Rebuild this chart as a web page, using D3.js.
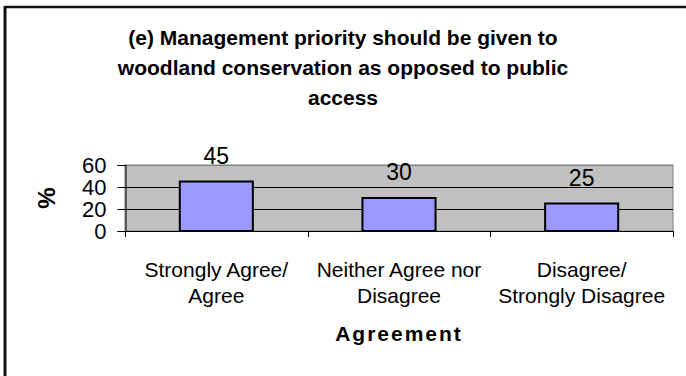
<!DOCTYPE html>
<html>
<head>
<meta charset="utf-8">
<script src="https://cdn.jsdelivr.net/npm/d3@7"></script>
<style>
  html, body { margin: 0; padding: 0; background: #fff; }
  svg { display: block; font-family: Arial, "Liberation Sans", sans-serif; }
</style>
</head>
<body>
<svg id="chart" width="686" height="376"></svg>
<script>
// Survey responses, percent of respondents
const categories = [
  ["Strongly Agree/", "Agree"],
  ["Neither Agree nor", "Disagree"],
  ["Disagree/", "Strongly Disagree"]
];
const values = [45, 30, 25];
const yTicks = [0, 20, 40, 60];
const titleLines = [
  "(e) Management priority should be given to",
  "woodland conservation as opposed to public",
  "access"
];
const xTitle = "Agreement";
const yTitle = "%";

const svg = d3.select("#chart");
const W = 686, H = 376;
const plot = { left: 125, right: 673, top: 165, bottom: 231 };
const FONT = "Arial, 'Liberation Sans', sans-serif";

// chart frame (top and left edges visible)
svg.append("rect").attr("x", 0).attr("y", 0).attr("width", W).attr("height", H).attr("fill", "#fff");
svg.append("line").attr("x1", 5).attr("x2", W).attr("y1", 7).attr("y2", 7)
  .attr("stroke", "#111").attr("stroke-width", 2.5);
svg.append("line").attr("x1", 5).attr("x2", 5).attr("y1", 6).attr("y2", H)
  .attr("stroke", "#111").attr("stroke-width", 3);

// title
svg.append("text")
  .attr("text-anchor", "middle")
  .attr("font-weight", "bold")
  .attr("font-size", 21)
  .attr("fill", "#000")
  .selectAll("tspan").data(titleLines).join("tspan")
  .attr("x", 343)
  .attr("y", (d, i) => 45 + i * 30)
  .text(d => d);

const x = d3.scaleBand()
  .domain(d3.range(categories.length))
  .range([plot.left, plot.right])
  .paddingInner(0.6).paddingOuter(0.3);
const y = d3.scaleLinear().domain([0, 60]).range([plot.bottom, plot.top]);

// plot area background
svg.append("rect")
  .attr("x", plot.left).attr("y", plot.top)
  .attr("width", plot.right - plot.left).attr("height", plot.bottom - plot.top)
  .attr("fill", "#c0c0c0")
  .attr("stroke", "#808080").attr("stroke-width", 1);

// gridlines
svg.append("g").selectAll("line").data(yTicks.filter(t => t > 0)).join("line")
  .attr("x1", plot.left).attr("x2", plot.right)
  .attr("y1", d => Math.round(y(d)) + 0.5).attr("y2", d => Math.round(y(d)) + 0.5)
  .attr("stroke", d => d === 60 ? "#808080" : "#000").attr("stroke-width", 1);

// bars
svg.append("g").selectAll("rect").data(values).join("rect")
  .attr("x", (d, i) => x(i))
  .attr("y", d => y(d))
  .attr("width", x.bandwidth())
  .attr("height", d => y(0) - y(d))
  .attr("fill", "#9999ff")
  .attr("stroke", "#000").attr("stroke-width", 2);

// value labels
svg.append("g").selectAll("text").data(values).join("text")
  .attr("x", (d, i) => x(i) + x.bandwidth() / 2)
  .attr("y", d => y(d) - 18)
  .attr("text-anchor", "middle")
  .attr("font-size", 23)
  .text(d => d);

// y axis
const yAxis = d3.axisLeft(y).tickValues(yTicks).tickSize(8).tickPadding(11).tickFormat(d3.format("d"));
const gy = svg.append("g").attr("transform", `translate(${plot.left + 0.5},0)`).call(yAxis);
gy.select(".domain").attr("stroke", "#000");
gy.selectAll(".tick line").attr("stroke", "#000");
gy.selectAll(".tick text").attr("font-size", 22).attr("font-family", FONT).attr("fill", "#000");

// x axis with ticks between categories
const xEdges = d3.range(categories.length + 1).map(i => plot.left + i * (plot.right - plot.left) / categories.length);
svg.append("line").attr("x1", plot.left).attr("x2", plot.right)
  .attr("y1", plot.bottom + 0.5).attr("y2", plot.bottom + 0.5).attr("stroke", "#000");
svg.append("g").selectAll("line").data(xEdges).join("line")
  .attr("x1", d => Math.round(d) + 0.5).attr("x2", d => Math.round(d) + 0.5)
  .attr("y1", plot.bottom).attr("y2", plot.bottom + 6).attr("stroke", "#000");

// category labels
svg.append("g").selectAll("text").data(categories).join("text")
  .attr("text-anchor", "middle")
  .attr("font-size", 21)
  .selectAll("tspan").data((d, i) => d.map(line => ({ line, i }))).join("tspan")
  .attr("x", d => x(d.i) + x.bandwidth() / 2)
  .attr("y", (d, j) => 277 + j * 26)
  .text(d => d.line);

// axis titles
svg.append("text").attr("x", (plot.left + plot.right) / 2).attr("y", 341)
  .attr("text-anchor", "middle").attr("font-weight", "bold").attr("font-size", 21)
  .attr("letter-spacing", 2).text(xTitle);
svg.append("text").attr("transform", "translate(55,198) rotate(-90)")
  .attr("text-anchor", "middle").attr("font-weight", "bold").attr("font-size", 24)
  .text(yTitle);
</script>
</body>
</html>
